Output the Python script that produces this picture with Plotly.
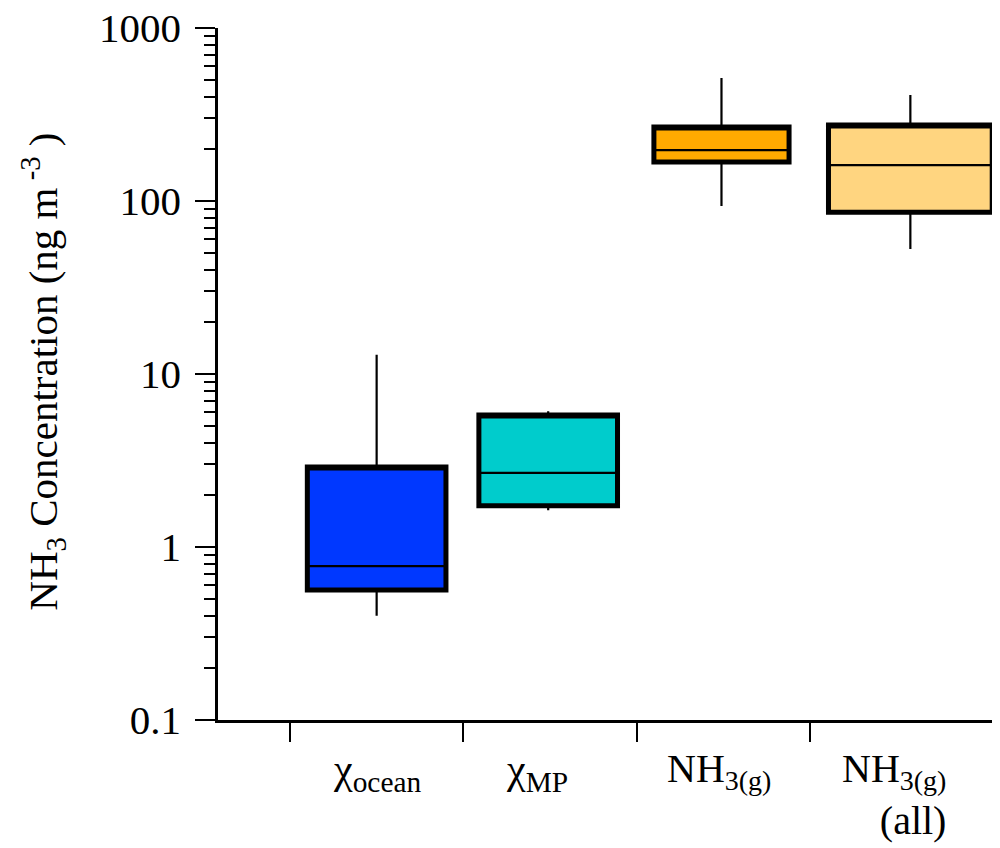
import plotly.graph_objects as go

# ---- data ----
labels = ["χ<sub>ocean</sub>",
          "χ<sub>MP</sub>",
          "NH<sub>3(g)</sub>",
          "NH<sub>3(g)</sub><br>(all)"]
lower_whisker = [0.40, 1.63, 93.6, 52.8]
q1_values = [0.565, 1.73, 168, 86]
median_values = [0.776, 2.68, 197, 161]
q3_values = [2.9, 5.8, 268, 275]
upper_whisker = [12.9, 6.1, 514, 410]
y_tick_values = [0.1, 1, 10, 100, 1000]
y_tick_labels = ["0.1", "1", "10", "100", "1000"]

# ---- layout / style ----
colors = ["#0038FF", "#00CCCC", "#FFAA00", "#FFD580"]
positions = [1.0, 1.99, 2.99, 4.08]
widths = [0.80, 0.80, 0.78, 0.945]
label_x = [1.0, 1.925, 2.975, 4.30]
label_anchor = ["center", "center", "center", "right"]
label_size = [42, 42, 40, 40]
label_shift = [-24, -24, -24, -24]
FONT = "Liberation Serif"

fig = go.Figure()
for i in range(len(labels)):
    # filled box with thin whiskers and median
    fig.add_trace(go.Box(
        x=[positions[i]], q1=[q1_values[i]], median=[median_values[i]],
        q3=[q3_values[i]], lowerfence=[lower_whisker[i]],
        upperfence=[upper_whisker[i]], width=widths[i], whiskerwidth=0,
        fillcolor=colors[i], line=dict(color="black", width=2.2),
        boxpoints=False, hoverinfo="skip", showlegend=False))
    # thick outline of the interquartile box
    fig.add_trace(go.Box(
        x=[positions[i]], q1=[q1_values[i]], median=[q3_values[i]],
        q3=[q3_values[i]], lowerfence=[q1_values[i]],
        upperfence=[q3_values[i]], width=widths[i], whiskerwidth=0,
        fillcolor="rgba(0,0,0,0)", line=dict(color="black", width=5),
        boxpoints=False, hoverinfo="skip", showlegend=False))

for i, lab in enumerate(labels):
    fig.add_annotation(x=label_x[i], xref="x", y=0, yref="paper",
                       yshift=label_shift[i], yanchor="top",
                       xanchor=label_anchor[i],
                       align="right" if label_anchor[i] == "right" else "center",
                       text=lab, showarrow=False,
                       font=dict(family=FONT, size=label_size[i], color="black"))

fig.add_annotation(x=-0.225, xref="paper", y=0.503, yref="paper",
                   xanchor="center", yanchor="middle", textangle=-90,
                   text="NH<sub>3</sub> Concentration (ng m<sup> -3</sup> )",
                   showarrow=False, font=dict(family=FONT, size=41, color="black"))

minor_vals = [m * 10 ** e for e in range(-1, 3) for m in range(2, 10)]

fig.update_layout(
    width=992, height=840,
    margin=dict(l=210, r=3, t=20, b=128),
    paper_bgcolor="white", plot_bgcolor="white",
    boxmode="overlay",
    font=dict(family=FONT, color="black"),
    xaxis=dict(range=[0.0845, 4.58], showgrid=False, zeroline=False,
               automargin=False,
               showline=True, linecolor="black", linewidth=2.5,
               tickvals=[0.5, 1.5, 2.5, 3.5], ticktext=["", "", "", ""],
               ticks="outside", ticklen=19, tickwidth=2, tickcolor="black"),
    yaxis=dict(type="log", range=[-1, 3], showgrid=False, zeroline=False,
               automargin=False,
               showline=True, linecolor="black", linewidth=2.5,
               tickvals=y_tick_values, ticktext=y_tick_labels,
               ticks="outside", ticklen=20, tickwidth=2, tickcolor="black",
               ticklabelstandoff=6, ticklabeloverflow="allow",
               tickfont=dict(family=FONT, size=41, color="black"),
               minor=dict(tickvals=minor_vals, ticks="outside", ticklen=11,
                          tickwidth=2, tickcolor="black")),
)

fig.write_html("out.html")
